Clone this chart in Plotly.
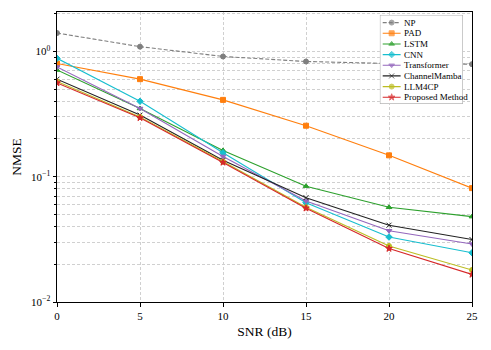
import plotly.graph_objects as go

# data
snr = [0, 5, 10, 15, 20, 25]
methods = ["NP", "PAD", "LSTM", "CNN", "Transformer", "ChannelMamba", "LLM4CP", "Proposed Method"]
np_nmse = [1.40, 1.09, 0.91, 0.83, 0.80, 0.79]
pad_nmse = [0.80, 0.60, 0.41, 0.255, 0.148, 0.081]
lstm_nmse = [0.71, 0.35, 0.162, 0.084, 0.057, 0.048]
cnn_nmse = [0.88, 0.40, 0.155, 0.062, 0.033, 0.0247]
transformer_nmse = [0.75, 0.35, 0.145, 0.064, 0.037, 0.029]
mamba_nmse = [0.60, 0.31, 0.135, 0.068, 0.041, 0.0315]
llm4cp_nmse = [0.575, 0.30, 0.132, 0.057, 0.028, 0.018]
proposed_nmse = [0.56, 0.295, 0.13, 0.056, 0.0267, 0.0166]

series = [np_nmse, pad_nmse, lstm_nmse, cnn_nmse, transformer_nmse,
          mamba_nmse, llm4cp_nmse, proposed_nmse]
colors = ["#7f7f7f", "#ff7f0e", "#2ca02c", "#17becf", "#9467bd",
          "#222222", "#bcbd22", "#d62728"]
symbols = ["circle", "square", "triangle-up", "diamond", "triangle-down",
           "x-thin-open", "circle", "star"]
dashes = ["4px,2px"] + ["solid"] * 7

FONT = "Liberation Serif"

fig = go.Figure()
for name, y, c, s, d in zip(methods, series, colors, symbols, dashes):
    fig.add_trace(go.Scatter(
        x=snr, y=y, name=name, mode="lines+markers",
        line=dict(color=c, width=1.1, dash=d),
        marker=dict(symbol=s, size=5, color=c, line=dict(color=c, width=1)),
        showlegend=False,
    ))

# hand-made legend box (plotly's own legend rows are too tall)
row_h = 10.66
fig.add_shape(type="rect", xref="x2", yref="y2", x0=0, x1=88, y0=0, y1=89,
              line=dict(color="#a0a0a0", width=1), fillcolor="white",
              layer="below")
for i, (name, c, s, d) in enumerate(zip(methods, colors, symbols, dashes)):
    ry = 7.7 + row_h * i
    fig.add_trace(go.Scatter(
        x=[3, 12.5, 22], y=[ry, ry, ry], xaxis="x2", yaxis="y2",
        mode="lines+markers", showlegend=False, hoverinfo="skip",
        line=dict(color=c, width=1.1, dash=d),
        marker=dict(symbol=s, size=[0, 5, 0], color=c, line=dict(color=c, width=1)),
    ))
    fig.add_annotation(x=23.5, y=ry, xref="x2", yref="y2", text=name,
                       showarrow=False, xanchor="left", yanchor="middle",
                       font=dict(family=FONT, size=9, color="black"))

grid = dict(gridcolor="#d0d0d0", griddash="3px,2px", gridwidth=0.8)

fig.update_layout(
    width=491, height=350,
    margin=dict(l=57, r=19, t=12, b=48),
    plot_bgcolor="white", paper_bgcolor="white",
    font=dict(family=FONT, color="black"),
    showlegend=False,
    xaxis=dict(
        range=[0, 25], tickvals=[0, 5, 10, 15, 20, 25],
        showline=True, mirror=True, linecolor="black", linewidth=1,
        ticks="outside", ticklen=3.5, tickcolor="black",
        tickfont=dict(size=11), zeroline=False, automargin=False,
        title=dict(text="SNR (dB)", font=dict(size=13.5), standoff=5),
        showgrid=True, **grid,
    ),
    yaxis=dict(
        type="log", range=[-2, 0.314],
        tickvals=[0.01, 0.1, 1],
        ticktext=["10<sup>−2</sup>", "10<sup>−1</sup>", "10<sup>0</sup>"],
        showline=True, mirror=True, linecolor="black", linewidth=1,
        ticks="outside", ticklen=3.5, tickcolor="black",
        tickfont=dict(size=11), zeroline=False, automargin=False,
        title=dict(text="NMSE", font=dict(size=13.5), standoff=6),
        showgrid=True, **grid,
        minor=dict(dtick="D1", showgrid=True, ticks="outside", ticklen=2,
                   tickcolor="black", gridcolor="#d0d0d0", griddash="3px,2px",
                   gridwidth=0.8),
    ),
    xaxis2=dict(domain=[0.778, 0.978], range=[0, 88], visible=False,
                fixedrange=True, automargin=False),
    yaxis2=dict(domain=[0.683, 0.990], range=[89, 0], visible=False,
                fixedrange=True, anchor="x2", automargin=False),
)

# drop the browser's default 8px body margin so the figure sits at 0,0
fig.write_html("out.html", config={"displayModeBar": False},
               post_script="document.body.style.margin='0';")
